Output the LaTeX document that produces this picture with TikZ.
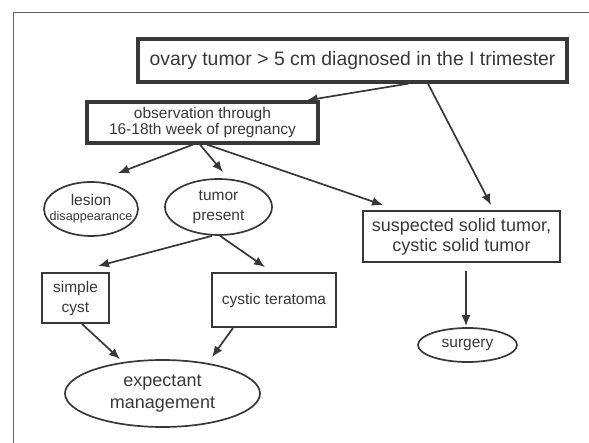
\documentclass[tikz,border=0pt]{standalone}
\usepackage{fontspec}
\setmainfont{Liberation Sans}
\usetikzlibrary{arrows.meta,shapes.geometric}
\definecolor{ink}{HTML}{383838}

\begin{document}
\begin{tikzpicture}[x=1pt,y=-1pt,
		box/.style={draw=ink,line width=1.9pt,rectangle,inner sep=0pt,align=center,text=ink},
		thickbox/.style={box,line width=3.2pt},
		oval/.style={draw=ink,line width=1.7pt,ellipse,inner xsep=-20pt,inner ysep=-6pt,align=center,text=ink},
		link/.style={draw=ink,line width=1.7pt,-{Latex[length=11pt,width=9pt]}},
		bigtext/.style={font=\fontsize{19.4}{22}\selectfont},
		midtext/.style={font=\fontsize{18}{20}\selectfont},
		smalltext/.style={font=\fontsize{15.5}{16}\selectfont}
	]
		\useasboundingbox (0,0) rectangle (589,443);
		\draw[draw=ink!80,line width=0.9pt] (13,443) -- (13,12) -- (589,12);

		\node[thickbox,bigtext,minimum width=429pt,minimum height=43pt] (diag) at (352.5,60.5) {ovary tumor > 5 cm diagnosed in the I trimester};
		\node[thickbox,smalltext,minimum width=231pt,minimum height=41pt] (obs) at (202.5,122.5) {observation through\\16-18th week of pregnancy};
		\node[oval,smalltext,minimum width=94pt,minimum height=54pt] (lesion) at (91,209) {lesion\\[-1pt]{\fontsize{12.6}{14}\selectfont disappearance}};
		\node[oval,smalltext,minimum width=107pt,minimum height=56pt] (present) at (218.5,207) {tumor\\[4pt]present};
		\node[box,midtext,minimum width=197pt,minimum height=51pt] (solid) at (461.5,236.5) {suspected solid tumor,\\cystic solid tumor};
		\node[box,smalltext,minimum width=67pt,minimum height=50pt] (cyst) at (75.5,298) {simple\\[4pt]cyst};
		\node[box,smalltext,minimum width=124pt,minimum height=54pt] (terat) at (274,300) {cystic teratoma};
		\node[oval,midtext,minimum width=195pt,minimum height=67pt] (expect) at (162.5,393.5) {expectant\\[2pt]management};
		\node[oval,smalltext,minimum width=99pt,minimum height=34pt] (surg) at (467.5,345) {surgery};

		\draw[link] ([xshift=56pt]diag.south) -- ([xshift=-13pt]obs.north east);
		\draw[link] ([xshift=75.5pt]diag.south) -- ([xshift=29.5pt,yshift=5pt]solid.north);
		\draw[link] ([xshift=-9.5pt]obs.south) -- ([xshift=27pt,yshift=8pt]lesion.north);
		\draw[link] ([xshift=-2.5pt]obs.south) -- ([xshift=4.5pt,yshift=6pt]present.north);
		\draw[link] ([xshift=4.5pt]obs.south) -- ([xshift=21pt,yshift=5pt]solid.north west);
		\draw[link] ([xshift=-6.5pt]present.south) -- ([xshift=22.5pt,yshift=6pt]cyst.north);
		\draw[link] ([xshift=1.5pt]present.south) -- ([xshift=-9pt,yshift=5pt]terat.north);
		\draw[link] ([xshift=6.5pt]cyst.south) -- ([xshift=-42.5pt]expect.north);
		\draw[link] ([xshift=-41pt]terat.south) -- ([xshift=49.5pt,yshift=2pt]expect.north);
		\draw[link] ([xshift=4.5pt,yshift=-8pt]solid.south) -- ([xshift=-1.5pt,yshift=1pt]surg.north);

\end{tikzpicture}
\end{document}
